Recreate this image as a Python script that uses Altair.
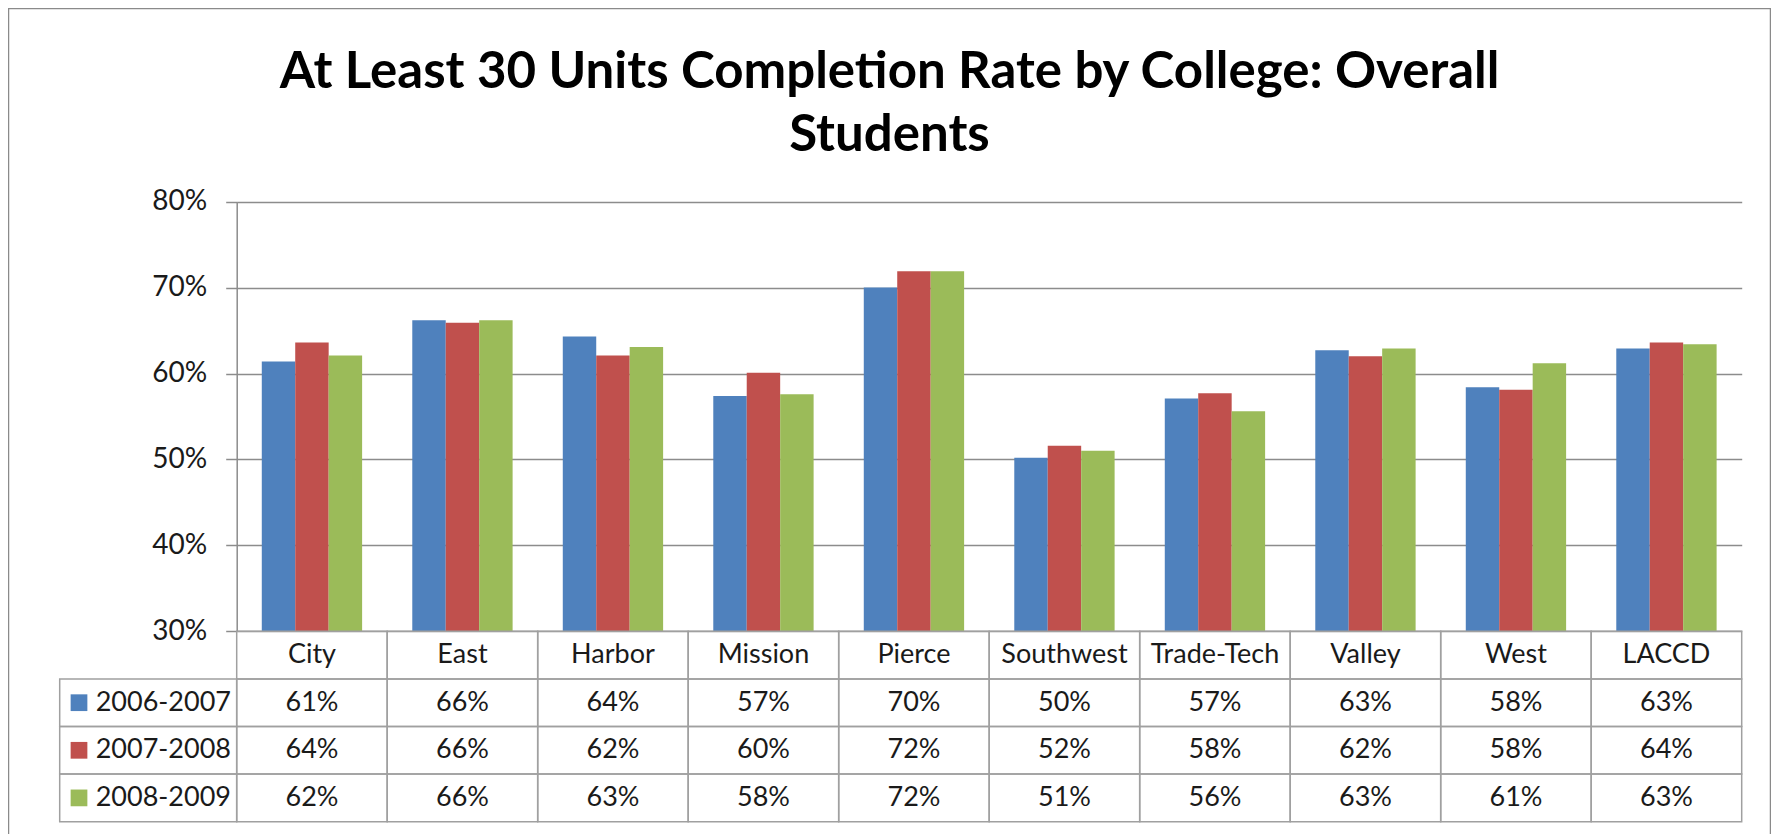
import altair as alt
import pandas as pd

# ---------------- data ----------------
colleges = ["City", "East", "Harbor", "Mission", "Pierce",
            "Southwest", "Trade-Tech", "Valley", "West", "LACCD"]
series = ["2006-2007", "2007-2008", "2008-2009"]
rate_2006_07 = [0.614, 0.662, 0.643, 0.574, 0.700, 0.502, 0.571, 0.627, 0.584, 0.629]
rate_2007_08 = [0.636, 0.659, 0.621, 0.601, 0.719, 0.516, 0.577, 0.620, 0.581, 0.636]
rate_2008_09 = [0.621, 0.662, 0.631, 0.576, 0.719, 0.510, 0.556, 0.629, 0.612, 0.634]
series_colors = ["#4F81BD", "#C0504D", "#9BBB59"]
y_ticks = [0.3, 0.4, 0.5, 0.6, 0.7, 0.8]
header_row = "College"
title_lines = ["At Least 30 Units Completion Rate by College: Overall", "Students"]

# ---------------- layout / style ----------------
FONT = "Lato"
VIEW_W, VIEW_H = 1763, 828          # the outer chart frame
PLOT_X = [228.7, 1733.7]            # plot area, in frame coordinates
PLOT_Y = [623.3, 193.7]
TABLE_Y = [623.3, 813.7]            # data table rows under the plot
KEY_X = [51.7, 228.7]               # legend-key column of the table
KEY_MID = (KEY_X[0] + KEY_X[1]) / 2
GRID = "#8c8c8c"
CELL = "#a0a0a0"
TEXT = "#1a1a1a"

rates = dict(zip(series, [rate_2006_07, rate_2007_08, rate_2008_09]))

bars_df = pd.DataFrame(
    [{"college": c, "series": s, "rate": rates[s][i]}
     for s in series for i, c in enumerate(colleges)]
)
cells_df = pd.DataFrame(
    [{"college": c, "row": header_row, "label": c} for c in colleges]
    + [{"college": c, "row": s, "label": f"{round(rates[s][i] * 100)}%"}
       for s in series for i, c in enumerate(colleges)]
)
key_df = pd.DataFrame({"key": ["legend"] * len(series), "row": series, "series": series})

color = alt.Color("series:N", scale=alt.Scale(domain=series, range=series_colors), legend=None)

x_col = alt.X("college:N",
              scale=alt.Scale(domain=colleges, range=PLOT_X, paddingInner=0, paddingOuter=0),
              axis=None)
y_row = alt.Y("row:N",
              scale=alt.Scale(domain=[header_row] + series, range=TABLE_Y,
                              paddingInner=0, paddingOuter=0),
              axis=None)
x_key = alt.X("key:N",
              scale=alt.Scale(domain=["legend"], range=KEY_X, paddingInner=0, paddingOuter=0),
              axis=None)

bars = alt.Chart(bars_df).mark_bar().encode(
    x=x_col,
    xOffset=alt.XOffset("series:N",
                        scale=alt.Scale(domain=series, paddingInner=0, paddingOuter=0.75)),
    y=alt.Y("rate:Q",
            scale=alt.Scale(domain=[y_ticks[0], y_ticks[-1]], range=PLOT_Y, nice=False, zero=False),
            axis=alt.Axis(values=y_ticks, format=".0%", title=None, offset=-PLOT_X[0],
                          grid=True, gridColor=GRID, gridWidth=1.5,
                          domainColor=GRID, domainWidth=1.5,
                          tickColor=GRID, tickWidth=1.5, tickSize=11,
                          labelFont=FONT, labelFontSize=28, labelColor=TEXT,
                          labelPadding=19)),
    y2=alt.datum(y_ticks[0]),
    color=color,
)

cell_rects = alt.Chart(cells_df).mark_rect(fill="transparent", stroke=CELL, strokeWidth=1.5).encode(
    x=x_col, y=y_row
)
cell_text = alt.Chart(cells_df).mark_text(font=FONT, fontSize=27, color=TEXT, baseline="middle").encode(
    x=x_col, y=y_row, text="label:N"
)

key_rects = alt.Chart(key_df).mark_rect(fill="transparent", stroke=CELL, strokeWidth=1.5).encode(
    x=x_key, y=y_row
)
key_swatch = alt.Chart(key_df).mark_square(size=280, opacity=1, xOffset=71 - KEY_MID).encode(
    x=x_key, y=y_row, color=color
)
key_text = alt.Chart(key_df).mark_text(align="left", dx=87.7 - KEY_MID, font=FONT, fontSize=27,
                                       color=TEXT, baseline="middle").encode(
    x=x_key, y=y_row, text="series:N"
)

chart = (
    alt.layer(bars, cell_rects, cell_text, key_rects, key_swatch, key_text)
    .resolve_scale(x="independent", y="independent")
    .properties(
        width=VIEW_W, height=VIEW_H, padding=0, background="white",
        title=alt.TitleParams(text=title_lines, font=FONT, fontSize=51, fontWeight="bold",
                              color="black", anchor="middle", offset=-194,
                              baseline="alphabetic", lineHeight=63),
    )
    .configure_view(stroke="#8a8a8a", strokeWidth=2.5, fill="white")
)

chart.save("out.html", embed_options={"renderer": "svg", "actions": False})
